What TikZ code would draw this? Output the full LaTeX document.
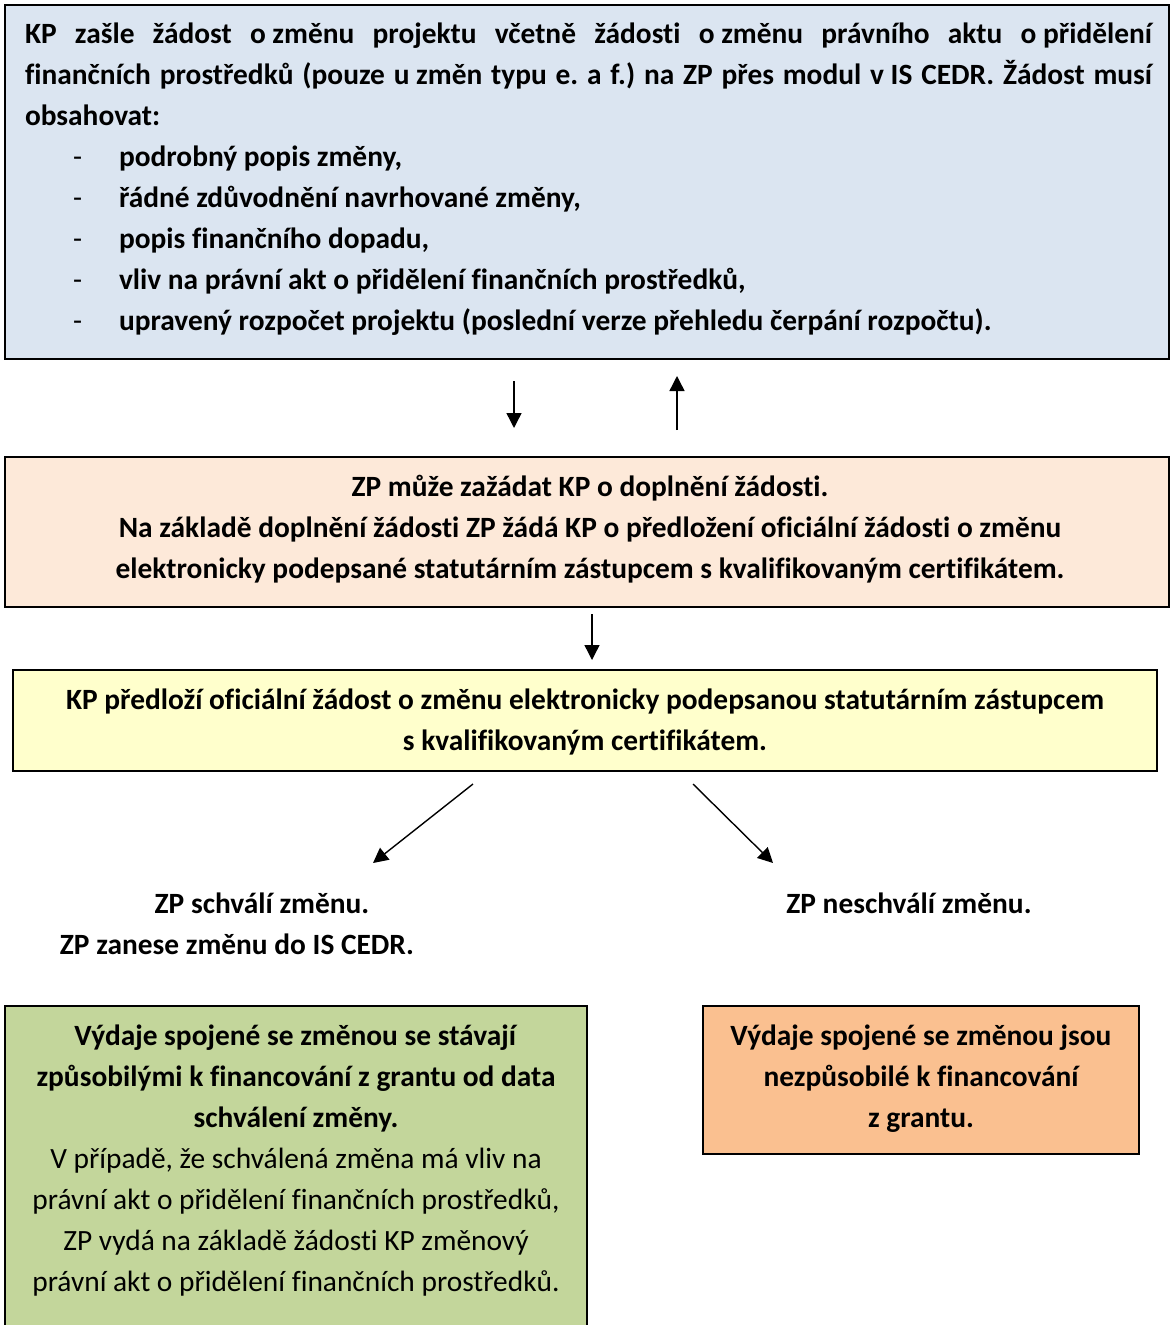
\documentclass[tikz,border=0pt]{standalone}
\usepackage{fontspec}
\setmainfont{Carlito}[Ligatures=NoCommon]
\usetikzlibrary{arrows.meta}

\begin{document}
\begin{tikzpicture}[x=1pt,y=-1pt]
\useasboundingbox (0,0) rectangle (1171,1325);
\definecolor{custcol_blue}{RGB}{219,229,241}
\definecolor{custcol_peach}{RGB}{253,233,217}
\definecolor{custcol_yellow}{RGB}{255,255,204}
\definecolor{custcol_green}{RGB}{195,214,155}
\definecolor{custcol_orange}{RGB}{250,192,144}
\tikzset{
  box/.style={draw=black, line width=2pt, inner sep=0, outer sep=0},
  txt/.style={inner sep=0, outer sep=0, anchor=north, font=\fontsize{29.4}{41}\selectfont\frenchspacing},
  btxt/.style={txt, font=\fontsize{29.4}{41}\selectfont\frenchspacing\bfseries},
  arr/.style={line width=1.4pt, -{Triangle[length=15pt,width=15pt]}}
}
\newcommand{\tsp}{\nobreak\hspace{0.226em}}
\newcommand{\dashitem}{\hspace*{48pt}\makebox[46pt][l]{\mdseries -}}
% boxes
\node[box, fill=custcol_blue, minimum width=1164, minimum height=354] (req) at (587,182) {};
\node[box, fill=custcol_peach, minimum width=1164, minimum height=150] (chg) at (587,532) {};
\node[box, fill=custcol_yellow, minimum width=1144, minimum height=101] (sub) at (585,720.5) {};
\node[box, fill=custcol_green, minimum width=582, minimum height=324] (ok) at (296,1168) {};
\node[box, fill=custcol_orange, minimum width=436, minimum height=148] (nok) at (921,1080) {};
% texts
\node[btxt, anchor=north west, text width=1127, align=justify] (reqtext) at (25,15) {\strut
KP zašle žádost o\tsp změnu projektu včetně žádosti o\tsp změnu právního aktu o\tsp přidělení\linebreak
finančních prostředků (pouze u\tsp změn typu e. a f.) na ZP přes modul v\tsp IS CEDR. Žádost musí\linebreak
obsahovat:\\
\dashitem podrobný popis změny,\\
\dashitem řádné zdůvodnění navrhované změny,\\
\dashitem popis finančního dopadu,\\
\dashitem vliv na právní akt o přidělení finančních prostředků,\\
\dashitem upravený rozpočet projektu (poslední verze přehledu čerpání rozpočtu).};
\node[btxt, align=center] (chgtext) at (590,468) {\strut ZP může zažádat KP o doplnění žádosti.\\
Na základě doplnění žádosti ZP žádá KP o předložení oficiální žádosti o změnu\\
elektronicky podepsané statutárním zástupcem s kvalifikovaným certifikátem.};
\node[btxt, align=center] (subtext) at (585,681) {\strut KP předloží oficiální žádost o změnu elektronicky podepsanou statutárním zástupcem\\
s kvalifikovaným certifikátem.};
\node[btxt, align=center] (yes) at (237,885) {\strut\hspace*{50pt}ZP schválí změnu.\\
ZP zanese změnu do IS CEDR.};
\node[btxt, align=center] (no) at (909,885) {\strut ZP neschválí změnu.};
\node[txt, align=center] (oktext) at (296,1017) {\strut\textbf{Výdaje spojené se změnou se stávají}\\
\textbf{způsobilými k financování z grantu od data}\\
\textbf{schválení změny.}\\
V případě, že schválená změna má vliv na\\
právní akt o přidělení finančních prostředků,\\
ZP vydá na základě žádosti KP změnový\\
právní akt o přidělení finančních prostředků.};
\node[btxt, align=center] (noktext) at (921,1017) {\strut Výdaje spojené se změnou jsou\\
nezpůsobilé k financování\\
z grantu.};
% arrows
\draw[arr, shorten <=22pt, shorten >=29pt] ([xshift=-73pt]req.south) -- ([xshift=-73pt]chg.north);
\draw[arr, shorten <=27pt, shorten >=17pt] ([xshift=90pt]chg.north) -- ([xshift=90pt]req.south);
\draw[arr, shorten <=7pt, shorten >=10pt] ([xshift=5pt]chg.south) -- ([xshift=7pt]sub.north);
\draw[arr] ([shift={(-112,13)}]sub.south) -- ([shift={(136,-22)}]yes.north);
\draw[arr] ([shift={(108,13)}]sub.south) -- ([shift={(-136,-22)}]no.north);
\end{tikzpicture}
\end{document}
